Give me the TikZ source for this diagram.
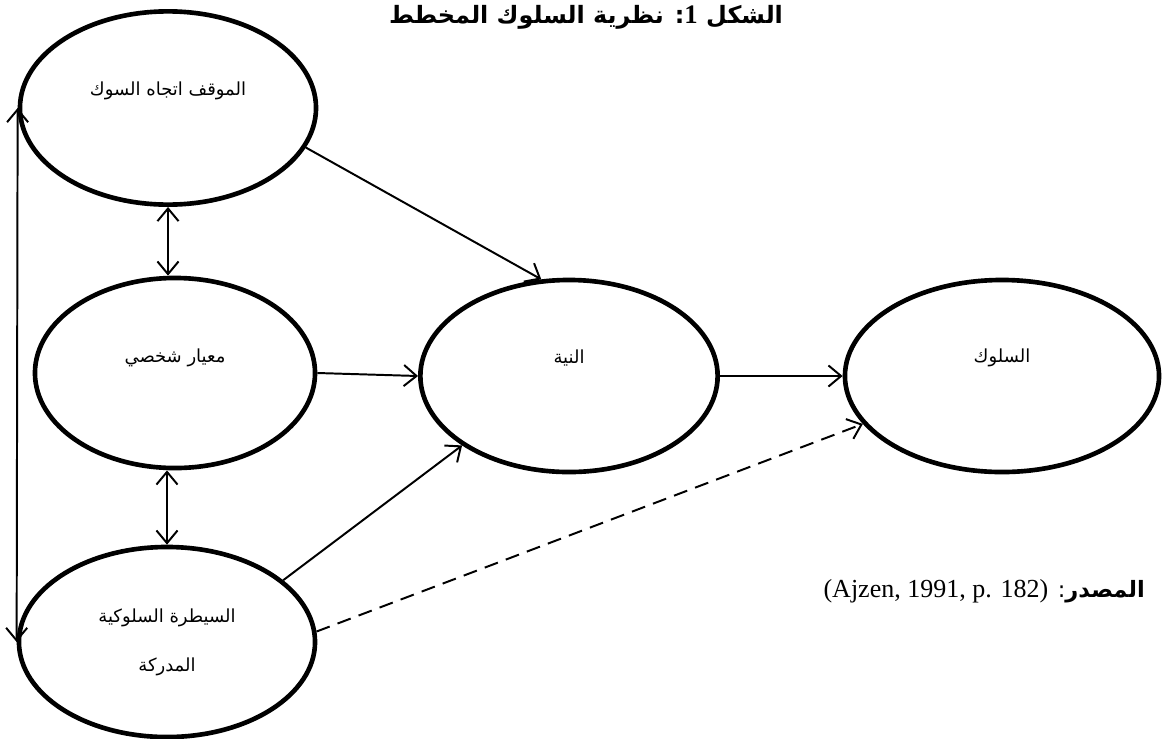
\documentclass[tikz,border=0pt]{standalone}
\usepackage{fontspec}
\setmainfont{Liberation Serif}
\newfontfamily\arabicfont[Script=Arabic]{DejaVu Sans}
\TeXXeTstate=1
\usetikzlibrary{arrows.meta,shapes.geometric}
\definecolor{ink}{RGB}{0,0,0}
\tikzset{
  oval/.style={draw=ink, ellipse, line width=3.3pt, inner sep=0pt, align=center, font=\arabicfont\fontsize{12.8}{15}\selectfont},
  txt/.style={font=\arabicfont\fontsize{12.8}{15}\selectfont, inner sep=0pt},
  arrow/.style={-{Straight Barb[length=9pt, width=15pt]}, line width=1.4pt, draw=ink},
  biarrow/.style={{Straight Barb[length=9pt, width=15pt]}-{Straight Barb[length=9pt, width=15pt]}, line width=1.4pt, draw=ink},
  dasharrow/.style={arrow, dash pattern=on 10pt off 6pt},
  headline/.style={font=\arabicfont\bfseries\fontsize{17}{19}\selectfont, inner sep=0pt}
}

\begin{document}
\begin{tikzpicture}[x=0.025cm, y=-0.025cm]
  \useasboundingbox (0,0) rectangle (1162,738);
  \node[headline, anchor=base] (title) at (586,23) {\beginR الشكل \beginL{\rmfamily\bfseries\fontsize{19}{21}\selectfont 1}\endL: نظرية السلوك المخطط\endR};
  \node[oval, minimum width=7.4cm, minimum height=4.83cm,
        label={[txt, yshift=12pt]center:\beginR الموقف اتجاه السوك\endR}] (att) at (168,108) {};
  \node[oval, minimum width=7.0cm, minimum height=4.75cm,
        label={[txt, yshift=11pt]center:\beginR معيار شخصي\endR}] (norm) at (175,373) {};
  \node[oval, minimum width=7.4cm, minimum height=4.75cm] (pbc) at (167,642) {\beginR السيطرة السلوكية\endR\\[20pt]\beginR المدركة\endR};
  \node[oval, minimum width=7.43cm, minimum height=4.8cm,
        label={[txt, yshift=13pt]center:\beginR النية\endR}] (intent) at (569,376) {};
  \node[oval, minimum width=7.85cm, minimum height=4.8cm,
        label={[txt, yshift=13pt]center:\beginR السلوك\endR}] (behav) at (1002,376) {};
  \node[anchor=base east, inner sep=0pt, font=\fontsize{18}{20}\selectfont] (src) at (1145,597)
    {{\arabicfont\fontsize{16}{18}\selectfont\beginR{\bfseries المصدر}: \beginL{\rmfamily\fontsize{18.5}{20}\selectfont (Ajzen, 1991, p. 182)}\endL\endR}};
  % links
  \draw[arrow] (att.-16) -- (intent.106);
  \draw[arrow] (norm.east) -- (intent.west);
  \draw[arrow] (pbc.28) -- (intent.-147);
  \draw[arrow] (intent.east) -- (behav.west);
  \draw[dasharrow] (pbc.4) -- (behav.-161);
  \draw[biarrow] (att.south) -- (att.south |- norm.north);
  \draw[biarrow] (pbc.north |- norm.south) -- (pbc.north);
  \draw[biarrow] (att.west) -- (pbc.west);
\end{tikzpicture}
\end{document}
